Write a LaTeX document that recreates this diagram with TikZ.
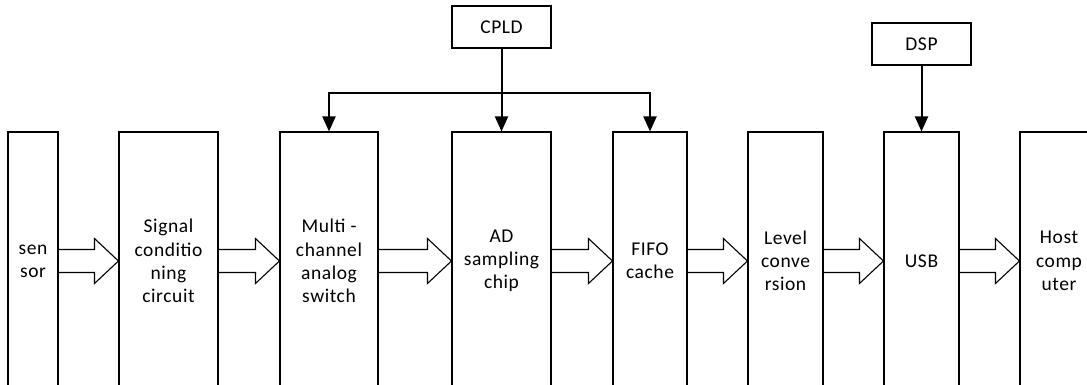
\documentclass[tikz,border=0pt]{standalone}
\usepackage{fontspec}
\setmainfont{Carlito}[LetterSpace=3]
\usetikzlibrary{arrows.meta,calc}
\tikzset{
  blockbox/.style={draw,line width=1.1pt,inner sep=0pt,minimum height=258pt,align=center,
    font=\fontsize{19.5}{23.3}\selectfont},
  topbox/.style={draw,line width=1.1pt,inner sep=0pt,minimum width=99pt,minimum height=42pt,
    font=\fontsize{19.5}{23.3}\selectfont},
  ctl/.style={line width=2pt,-{Triangle[length=15pt,width=13pt]}},
  blk/.style={line width=1.1pt,line join=miter}
}
\newcommand{\blockarrow}[2]{%
  \draw[blk] ($(#1.east)+(0,-11.5)$) -- ($(#2.west)+(-24,-11.5)$) -- ($(#2.west)+(-24,-22.5)$)
    -- (#2.west) -- ($(#2.west)+(-24,22.5)$) -- ($(#2.west)+(-24,11.5)$) -- ($(#1.east)+(0,11.5)$);}
\begin{document}
\begin{tikzpicture}[x=1pt,y=-1pt]
\useasboundingbox (0,0) rectangle (1087,385);
\clip (0,0) rectangle (1087,385);
\node[blockbox,minimum width=50pt] (sensor) at (33,261) {sen\\sor};
\node[blockbox,minimum width=99pt] (signal) at (168.5,261) {Signal\\conditio\\ning\\circuit};
\node[blockbox,minimum width=98pt] (multi) at (329,261) {Multi -\\channel\\analog\\switch};
\node[blockbox,minimum width=99pt] (ad) at (501.5,261) {AD\\sampling\\chip};
\node[blockbox,minimum width=74pt] (fifo) at (650,261) {FIFO\\cache};
\node[blockbox,minimum width=75pt] (level) at (785.5,261) {Level\\conve\\rsion};
\node[blockbox,minimum width=75pt] (usb) at (921.5,261) {USB};
\node[blockbox,minimum width=78pt] (host) at (1059,261) {Host\\comp\\uter};
\node[topbox] (cpld) at (501.5,27) {CPLD};
\node[topbox] (dsp) at (921.5,44) {DSP};
\blockarrow{sensor}{signal}
\blockarrow{signal}{multi}
\blockarrow{multi}{ad}
\blockarrow{ad}{fifo}
\blockarrow{fifo}{level}
\blockarrow{level}{usb}
\blockarrow{usb}{host}
\coordinate (bus) at ($(cpld.south)+(0,44)$);
\draw[line width=2pt] (cpld.south) -- (bus);
\draw[ctl] (bus) -| (multi.north);
\draw[ctl] (bus) -| (fifo.north);
\draw[ctl] (cpld.south) -- (ad.north);
\draw[ctl] (dsp.south) -- (usb.north);
\end{tikzpicture}
\end{document}
